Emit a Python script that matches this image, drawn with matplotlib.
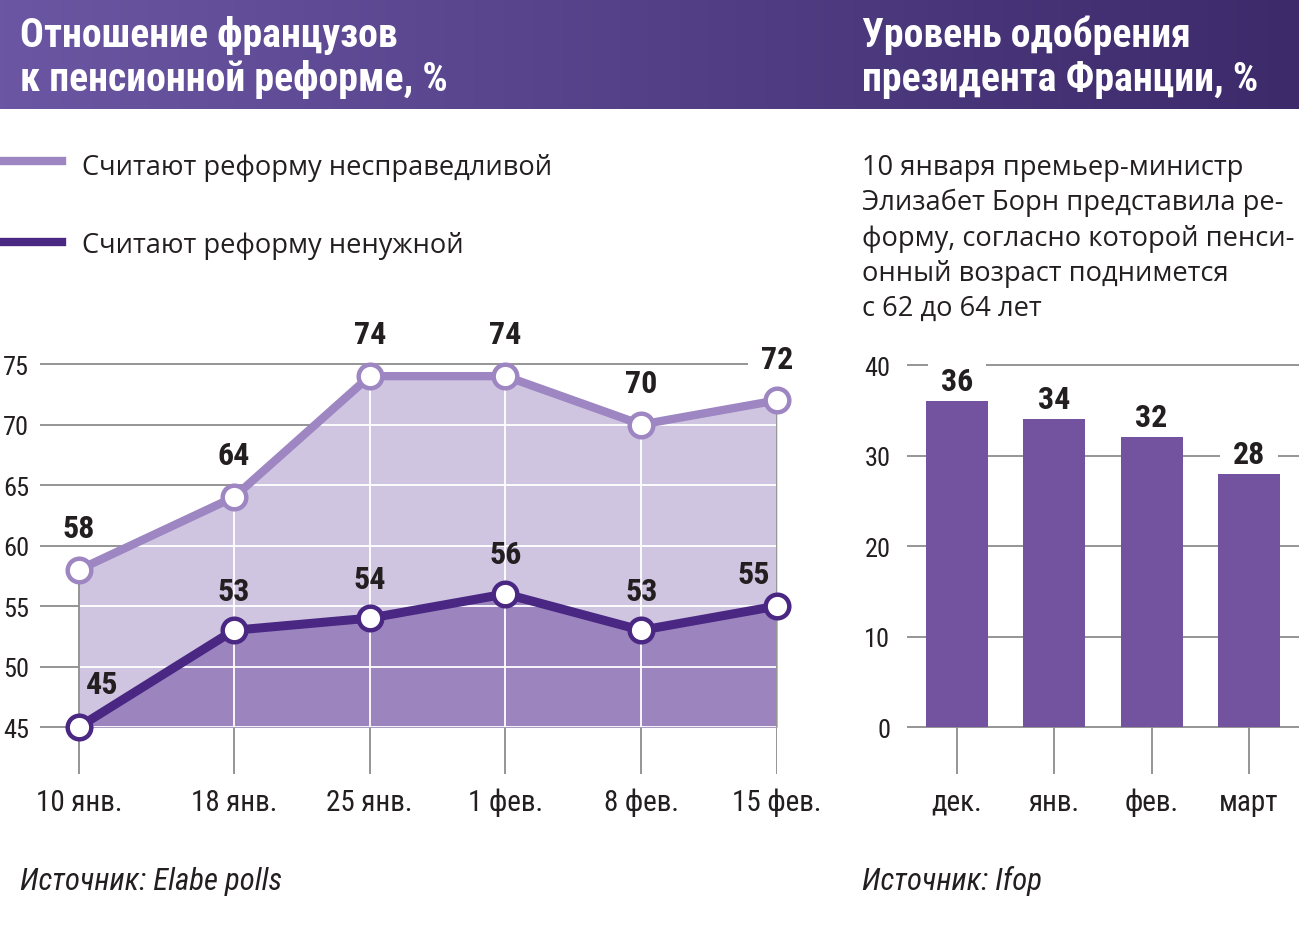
import matplotlib
matplotlib.use('Agg')
import matplotlib.pyplot as plt
import matplotlib.font_manager as fm
import numpy as np

# данные
dates = ['10 янв.', '18 янв.', '25 янв.', '1 фев.', '8 фев.', '15 фев.']
days = [10, 18, 25, 32, 39, 46]
unfair = [58, 64, 74, 74, 70, 72]
useless = [45, 53, 54, 56, 53, 55]

months = ['дек.', 'янв.', 'фев.', 'март']
approval = [36, 34, 32, 28]

note = ['10 января премьер-министр',
        'Элизабет Борн представила ре-',
        'форму, согласно которой пенси-',
        'онный возраст поднимется',
        'с 62 до 64 лет']

# цвета
C_LIGHT = '#9d86c1'
C_LIGHT_FILL = '#cfc5e1'
C_DARK = '#4a2783'
C_DARK_FILL = '#9c85bf'
C_BAR = '#7352a0'
C_GRID = '#8c8c8c'
C_TEXT = '#231f20'

# шрифты
names = {f.name for f in fm.fontManager.ttflist}
COND = 'DejaVu Sans'
for n in ['Roboto Condensed', 'Liberation Sans Narrow', 'Open Sans Condensed']:
    if n in names:
        COND = n
        break
STRETCH = 'condensed' if COND == 'DejaVu Sans' else 'normal'
REG = 'Open Sans' if 'Open Sans' in names else 'DejaVu Sans'

W, H = 1299, 928
fig = plt.figure(figsize=(W / 100, H / 100), dpi=100)
renderer = fig.canvas.get_renderer()


def fx(x):
    return x / W


def fy(y):
    return 1 - y / H


def fit_size(s, target, **kw):
    t = fig.text(0, 0, s, fontsize=20, **kw)
    w = t.get_window_extent(renderer).width
    t.remove()
    return 20 * target / w


# шапка с градиентом
axh = fig.add_axes([0, fy(110), 1, 110 / H])
c1 = np.array([0x6b, 0x56, 0xa3]) / 255
c2 = np.array([0x3c, 0x2a, 0x6b]) / 255
t = np.linspace(0, 1, 400)
grad = (c1[None, :] * (1 - t[:, None]) + c2[None, :] * t[:, None])[None, :, :]
axh.imshow(grad, aspect='auto', extent=[0, 1, 0, 1])
axh.axis('off')

title_kw = dict(family=COND, fontstretch=STRETCH, fontweight='bold', color='white')
fs_t = (fit_size('Отношение французов', 377, **title_kw) +
        fit_size('к пенсионной реформе, %', 432, **title_kw) +
        fit_size('Уровень одобрения', 326, **title_kw) +
        fit_size('президента Франции, %', 394, **title_kw)) / 4
fig.text(fx(20), fy(47), 'Отношение французов', fontsize=fs_t, va='baseline', **title_kw)
fig.text(fx(20), fy(91), 'к пенсионной реформе, %', fontsize=fs_t, va='baseline', **title_kw)
fig.text(fx(862), fy(47), 'Уровень одобрения', fontsize=fs_t, va='baseline', **title_kw)
fig.text(fx(862), fy(91), 'президента Франции, %', fontsize=fs_t, va='baseline', **title_kw)

# легенда
reg_kw = dict(family=REG, color=C_TEXT)
fs_r = (fit_size('Считают реформу несправедливой', 466, **reg_kw) +
        fit_size(note[2], 435, **reg_kw)) / 2
fig.add_artist(plt.Line2D([0, fx(62)], [fy(162), fy(162)], color=C_LIGHT, lw=6))
fig.add_artist(plt.Line2D([0, fx(62)], [fy(243), fy(243)], color=C_DARK, lw=6))
fig.text(fx(82), fy(175), 'Считают реформу несправедливой', fontsize=fs_r, va='baseline', **reg_kw)
fig.text(fx(82), fy(253), 'Считают реформу ненужной', fontsize=fs_r, va='baseline', **reg_kw)

# пояснение справа
for i, line in enumerate(note):
    fig.text(fx(862), fy(175 + 35.3 * i), line, fontsize=fs_r, va='baseline', **reg_kw)

# источники
src_kw = dict(family=COND, fontstretch=STRETCH, style='italic', color=C_TEXT)
fs_s = fit_size('Источник: Elabe polls', 261, **src_kw)
fig.text(fx(20), fy(890), 'Источник: Elabe polls', fontsize=fs_s, va='baseline', **src_kw)
fig.text(fx(862), fy(890), 'Источник: Ifop', fontsize=fs_s, va='baseline', **src_kw)

cond_kw = dict(family=COND, fontstretch=STRETCH)

# левый график
ax = fig.add_axes([fx(40), fy(775), (777 - 40) / W, (775 - 329) / H])
ax.set_xlim(8, 46)
ax.set_ylim(41.12, 77.98)
yt = list(range(45, 80, 5))
ax.hlines(yt, 8, 46, color=C_GRID, lw=1.3, zorder=1)
ax.vlines(days, 41.12, 45, color=C_GRID, lw=1.3, zorder=1)
light = ax.fill_between(days, unfair, 45, color=C_LIGHT_FILL, lw=0, zorder=2)
ax.fill_between(days, useless, 45, color=C_DARK_FILL, lw=0, zorder=3)
clip = light.get_paths()[0]
wh = ax.hlines(yt, 8, 46, color='white', lw=1.3, zorder=4)
wh.set_clip_path(clip, ax.transData)
wv = ax.vlines(days, 45, 80, color='white', lw=1.3, zorder=4)
wv.set_clip_path(clip, ax.transData)
ax.vlines([days[0], days[-1]], 45, [unfair[0], unfair[-1]], color=C_GRID, lw=1.3, zorder=4)

ax.plot(days, unfair, color=C_LIGHT, lw=6, marker='o', ms=17, mfc='white',
        mec=C_LIGHT, mew=3.2, zorder=6, clip_on=False, solid_joinstyle='round')
ax.plot(days, useless, color=C_DARK, lw=6.5, marker='o', ms=17, mfc='white',
        mec=C_DARK, mew=3.2, zorder=7, clip_on=False, solid_joinstyle='round')

lab_kw = dict(fontsize=23, fontweight='bold', color=C_TEXT, ha='center', va='center',
              textcoords='offset points', annotation_clip=False, zorder=8, **cond_kw)
for i, (x, v) in enumerate(zip(days, unfair)):
    # последняя подпись прерывает линию сетки
    bb = dict(boxstyle='square,pad=0.4', fc='white', ec='none') if i == len(days) - 1 else None
    ax.annotate(str(v), (x, v), xytext=(0, 30), bbox=bb, **lab_kw)
off_dark = [(17, 31), (0, 28.5), (0, 28.5), (0, 28.5), (0, 28.5), (-17, 23)]
for x, v, o in zip(days, useless, off_dark):
    ax.annotate(str(v), (x, v), xytext=o, **lab_kw)

ax.set_yticks(yt)
ax.set_yticklabels([str(v) for v in yt], fontsize=19, color=C_TEXT, **cond_kw)
ax.set_xticks(days)
ax.set_xticklabels(dates, fontsize=21, color=C_TEXT, **cond_kw)
ax.tick_params(length=0)
ax.tick_params(axis='y', pad=8)
ax.tick_params(axis='x', pad=10)
for s in ax.spines.values():
    s.set_visible(False)

# правый график
ax2 = fig.add_axes([fx(907), fy(775), (1299 - 907) / W, (775 - 330) / H])
ax2.set_xlim(-0.514, 3.515)
ax2.set_ylim(-5.19, 43.98)
yt2 = [0, 10, 20, 30, 40]
xi = np.arange(len(months))
ax2.hlines(yt2, -0.514, 3.515, color=C_GRID, lw=1.3, zorder=1)
ax2.vlines(xi, -5.19, 0, color=C_GRID, lw=1.3, zorder=1)
ax2.bar(xi, approval, width=0.637, color=C_BAR, zorder=3)
for x, v in zip(xi, approval):
    ax2.annotate(str(v), (x, v), xytext=(0, 8), fontsize=23, fontweight='bold', color=C_TEXT,
                 ha='center', va='baseline', textcoords='offset points', zorder=2,
                 bbox=dict(boxstyle='square,pad=0.4', fc='white', ec='none'), **cond_kw)
ax2.set_yticks(yt2)
ax2.set_yticklabels([str(v) for v in yt2], fontsize=19, color=C_TEXT, **cond_kw)
ax2.set_xticks(xi)
ax2.set_xticklabels(months, fontsize=21, color=C_TEXT, **cond_kw)
ax2.tick_params(length=0)
ax2.tick_params(axis='y', pad=12)
ax2.tick_params(axis='x', pad=10)
for s in ax2.spines.values():
    s.set_visible(False)

fig.savefig('out.png', dpi=100)
